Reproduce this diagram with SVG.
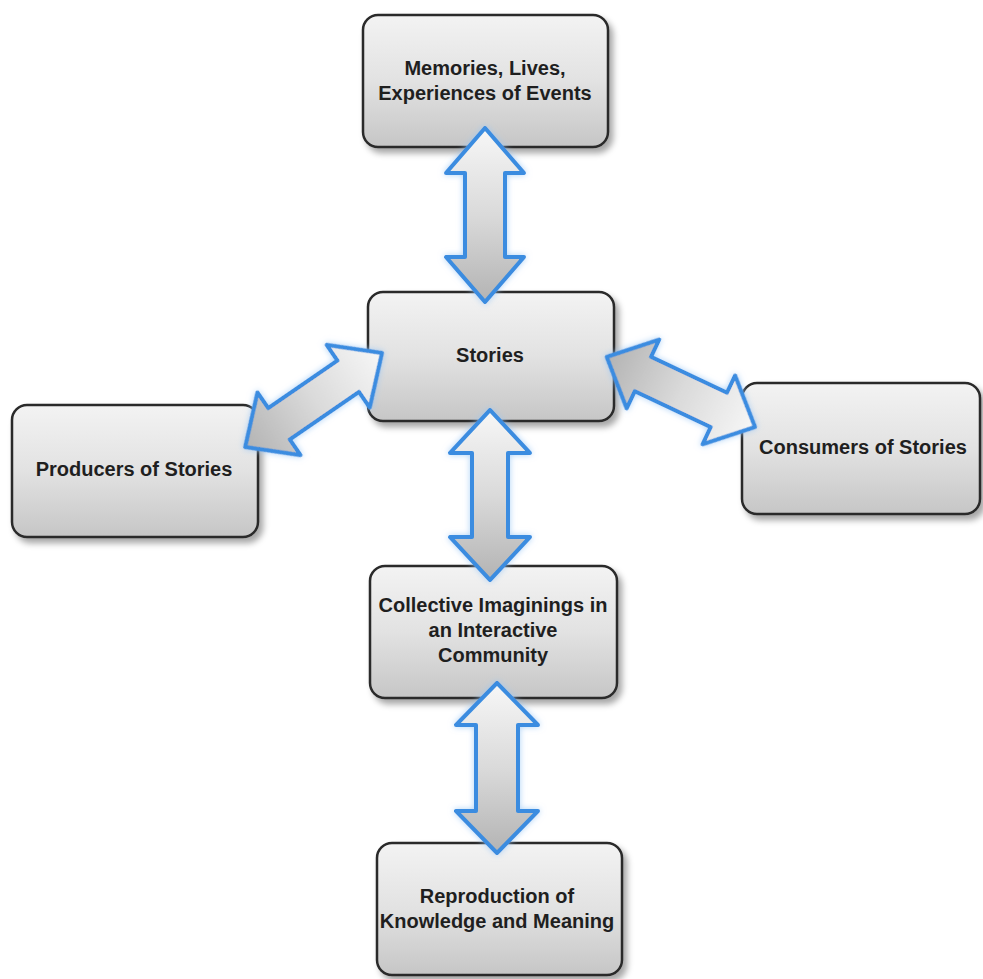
<svg xmlns="http://www.w3.org/2000/svg" width="983" height="979" viewBox="0 0 983 979">
  <defs>
    <linearGradient id="boxFill" x1="0" y1="0" x2="0" y2="1">
      <stop offset="0" stop-color="#f3f3f3"/>
      <stop offset="0.5" stop-color="#e2e2e2"/>
      <stop offset="1" stop-color="#c6c6c6"/>
    </linearGradient>
    <linearGradient id="arrowFill" x1="0" y1="0" x2="1" y2="0">
      <stop offset="0" stop-color="#f7f7f7"/>
      <stop offset="0.5" stop-color="#dadada"/>
      <stop offset="1" stop-color="#b3b3b3"/>
    </linearGradient>
    <filter id="shadow" x="-10%" y="-10%" width="125%" height="130%">
      <feDropShadow dx="4" dy="5" stdDeviation="3" flood-color="#000" flood-opacity="0.35"/>
    </filter>
    <filter id="glow" x="-30%" y="-30%" width="160%" height="160%">
      <feGaussianBlur in="SourceAlpha" stdDeviation="3" result="b"/>
      <feFlood flood-color="#9cc8f5" flood-opacity="0.8"/>
      <feComposite in2="b" operator="in" result="g"/>
      <feMerge>
        <feMergeNode in="g"/>
        <feMergeNode in="SourceGraphic"/>
      </feMerge>
    </filter>
  </defs>
  <style>
    .box { fill: url(#boxFill); stroke: #2a2a2a; stroke-width: 2.5; filter: url(#shadow); }
    .lbl { font-family: "Liberation Sans", Arial, sans-serif; font-weight: bold; font-size: 20px; fill: #1f1f1f; text-anchor: middle; }
    .arrow { fill: url(#arrowFill); stroke: #3a8ce0; stroke-width: 4; stroke-linejoin: round; filter: url(#glow); }
  </style>
  <rect width="983" height="979" fill="#ffffff"/>

  <g id="memories">
    <rect class="box" x="363" y="15" width="245" height="132" rx="15"/>
    <text class="lbl" x="485" y="75">Memories, Lives,</text>
    <text class="lbl" x="485" y="100">Experiences of Events</text>
  </g>
  <g id="stories">
    <rect class="box" x="368" y="292" width="246" height="129" rx="15"/>
    <text class="lbl" x="490" y="362">Stories</text>
  </g>
  <g id="producers">
    <rect class="box" x="12" y="405" width="246" height="132" rx="15"/>
    <text class="lbl" x="134" y="476">Producers of Stories</text>
  </g>
  <g id="consumers">
    <rect class="box" x="742" y="383" width="238" height="131" rx="15"/>
    <text class="lbl" x="863" y="454">Consumers of Stories</text>
  </g>
  <g id="collective">
    <rect class="box" x="370" y="566" width="247" height="132" rx="15"/>
    <text class="lbl" x="493" y="612">Collective Imaginings in</text>
    <text class="lbl" x="493" y="637">an Interactive</text>
    <text class="lbl" x="493" y="662">Community</text>
  </g>
  <g id="reproduction">
    <rect class="box" x="377" y="843" width="245" height="132" rx="15"/>
    <text class="lbl" x="497" y="903">Reproduction of</text>
    <text class="lbl" x="497" y="928">Knowledge and Meaning</text>
  </g>

  <g id="connectors">
    <path class="arrow" transform="translate(485,128) rotate(90)" d="M0,0 L45,-39 L45,-20 L129,-20 L129,-39 L174,0 L129,39 L129,20 L45,20 L45,39 Z"/>
    <path class="arrow" transform="translate(490,410) rotate(90)" d="M0,0 L43,-40 L43,-18 L127,-18 L127,-40 L170,0 L127,40 L127,18 L43,18 L43,40 Z"/>
    <path class="arrow" transform="translate(497,683) rotate(90)" d="M0,0 L42,-41 L42,-21 L128,-21 L128,-41 L170,0 L128,41 L128,21 L42,21 L42,41 Z"/>
    <path class="arrow" transform="translate(382,353) rotate(145.5)" d="M0,0 L41,-38 L41,-19 L125,-19 L125,-38 L166,0 L125,38 L125,19 L41,19 L41,38 Z"/>
    <path class="arrow" transform="translate(755,427) rotate(205.3)" d="M0,0 L40,-38 L40,-19 L124,-19 L124,-38 L164,0 L124,38 L124,19 L40,19 L40,38 Z"/>
  </g>
</svg>
